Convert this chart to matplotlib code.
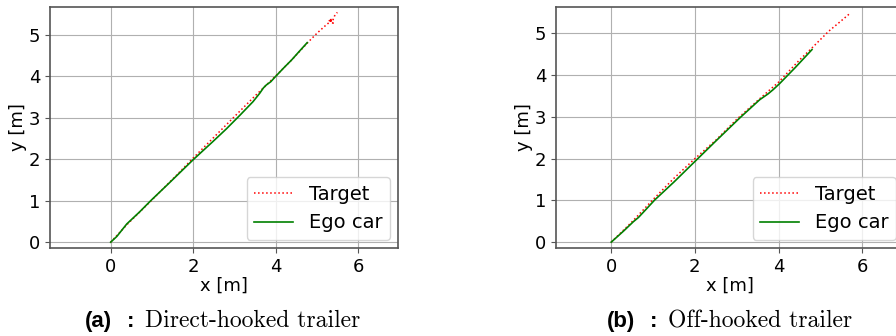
import numpy as np
import matplotlib.pyplot as plt

# --- 轨迹数据 (a) Direct-hooked ---
target_a_x = [0.0, 0.4, 1.0, 1.6, 2.0, 2.5, 3.0, 3.5, 3.7, 4.0, 4.4, 4.8, 5.0, 5.2,
              5.26, 5.38, 5.27, 5.39, 5.29, 5.37, 5.42, 5.49]
target_a_y = [0.0, 0.43, 1.02, 1.62, 2.03, 2.53, 3.03, 3.53, 3.72, 4.01, 4.41, 4.84, 5.04, 5.22,
              5.27, 5.37, 5.36, 5.28, 5.37, 5.32, 5.45, 5.54]
ego_a_x = [0.0, 0.15, 0.39, 0.7, 0.99, 1.4, 2.0, 2.48, 2.8, 3.13, 3.45, 3.61, 3.7, 3.77,
           3.88, 3.98, 4.2, 4.38, 4.55, 4.76]
ego_a_y = [0.0, 0.14, 0.44, 0.73, 1.02, 1.41, 1.99, 2.43, 2.73, 3.06, 3.39, 3.59, 3.72, 3.79,
           3.87, 3.98, 4.21, 4.39, 4.58, 4.81]

# --- 轨迹数据 (b) Off-hooked ---
target_b_x = [0.0, 0.5, 1.0, 1.5, 2.0, 2.5, 3.0, 3.5, 4.0, 4.5, 4.8, 5.2, 5.5, 5.7]
target_b_y = [0.0, 0.49, 1.02, 1.53, 2.0, 2.44, 2.94, 3.39, 3.83, 4.36, 4.65, 5.05, 5.30, 5.47]
ego_b_x = [0.0, 0.1, 0.3, 0.53, 0.65, 0.8, 1.04, 1.5, 2.04, 2.5, 3.08, 3.55, 3.75, 3.87,
           4.03, 4.4, 4.80]
ego_b_y = [0.0, 0.09, 0.27, 0.49, 0.59, 0.75, 1.01, 1.44, 1.97, 2.42, 2.98, 3.41, 3.55, 3.65,
           3.80, 4.18, 4.61]

# (数据, x/y 范围, 坐标轴左边缘 px, 标题位置 px, 标题文字)
panels = [
    (target_a_x, target_a_y, ego_a_x, ego_a_y, (-1.47, 6.96), (-0.14, 5.67),
     50, (85, 127, 145), '(a)', 'Direct-hooked trailer'),
    (target_b_x, target_b_y, ego_b_x, ego_b_y, (-1.32, 7.0), (-0.14, 5.63),
     556, (607, 650, 668), '(b)', 'Off-hooked trailer'),
]

W, H = 896, 336
fig = plt.figure(figsize=(W / 100, H / 100), dpi=100)

for tx, ty, ex, ey, xl, yl, left, cap_x, tag, caption in panels:
    ax = fig.add_axes([left / W, (H - 248) / H, 348 / W, 241 / H])
    ax.plot(tx, ty, color='red', linestyle=':', linewidth=1.1, label='Target')
    ax.plot(ex, ey, color='green', linestyle='-', linewidth=1.2, label='Ego car')
    ax.set_xlim(*xl)
    ax.set_ylim(*yl)
    ax.set_xticks([0, 2, 4, 6])
    ax.set_yticks([0, 1, 2, 3, 4, 5])
    ax.grid(True, color='#b0b0b0', linewidth=0.8)
    ax.set_axisbelow(True)
    for sp in ax.spines.values():
        sp.set_color('#555555')
        sp.set_linewidth(1.2)
    ax.tick_params(labelsize=13, color='#555555')
    ax.set_xlabel('x [m]', fontsize=13, labelpad=1)
    ax.set_ylabel('y [m]', fontsize=13, labelpad=1)
    ax.legend(loc='lower right', fontsize=14, borderaxespad=0.4)

    # 子图标题: 粗体标签 + 衬线文字
    base = 1 - 327 / H
    fig.text(cap_x[0] / W, base, tag, ha='left', va='baseline',
             fontsize=16, family='Liberation Sans', weight='bold')
    fig.text(cap_x[1] / W, base, ':', ha='left', va='baseline',
             fontsize=16, family='Liberation Sans', weight='bold')
    fig.text(cap_x[2] / W, base, caption, ha='left', va='baseline',
             fontsize=17, family='cmr10')

plt.savefig('out.png', dpi=100)
